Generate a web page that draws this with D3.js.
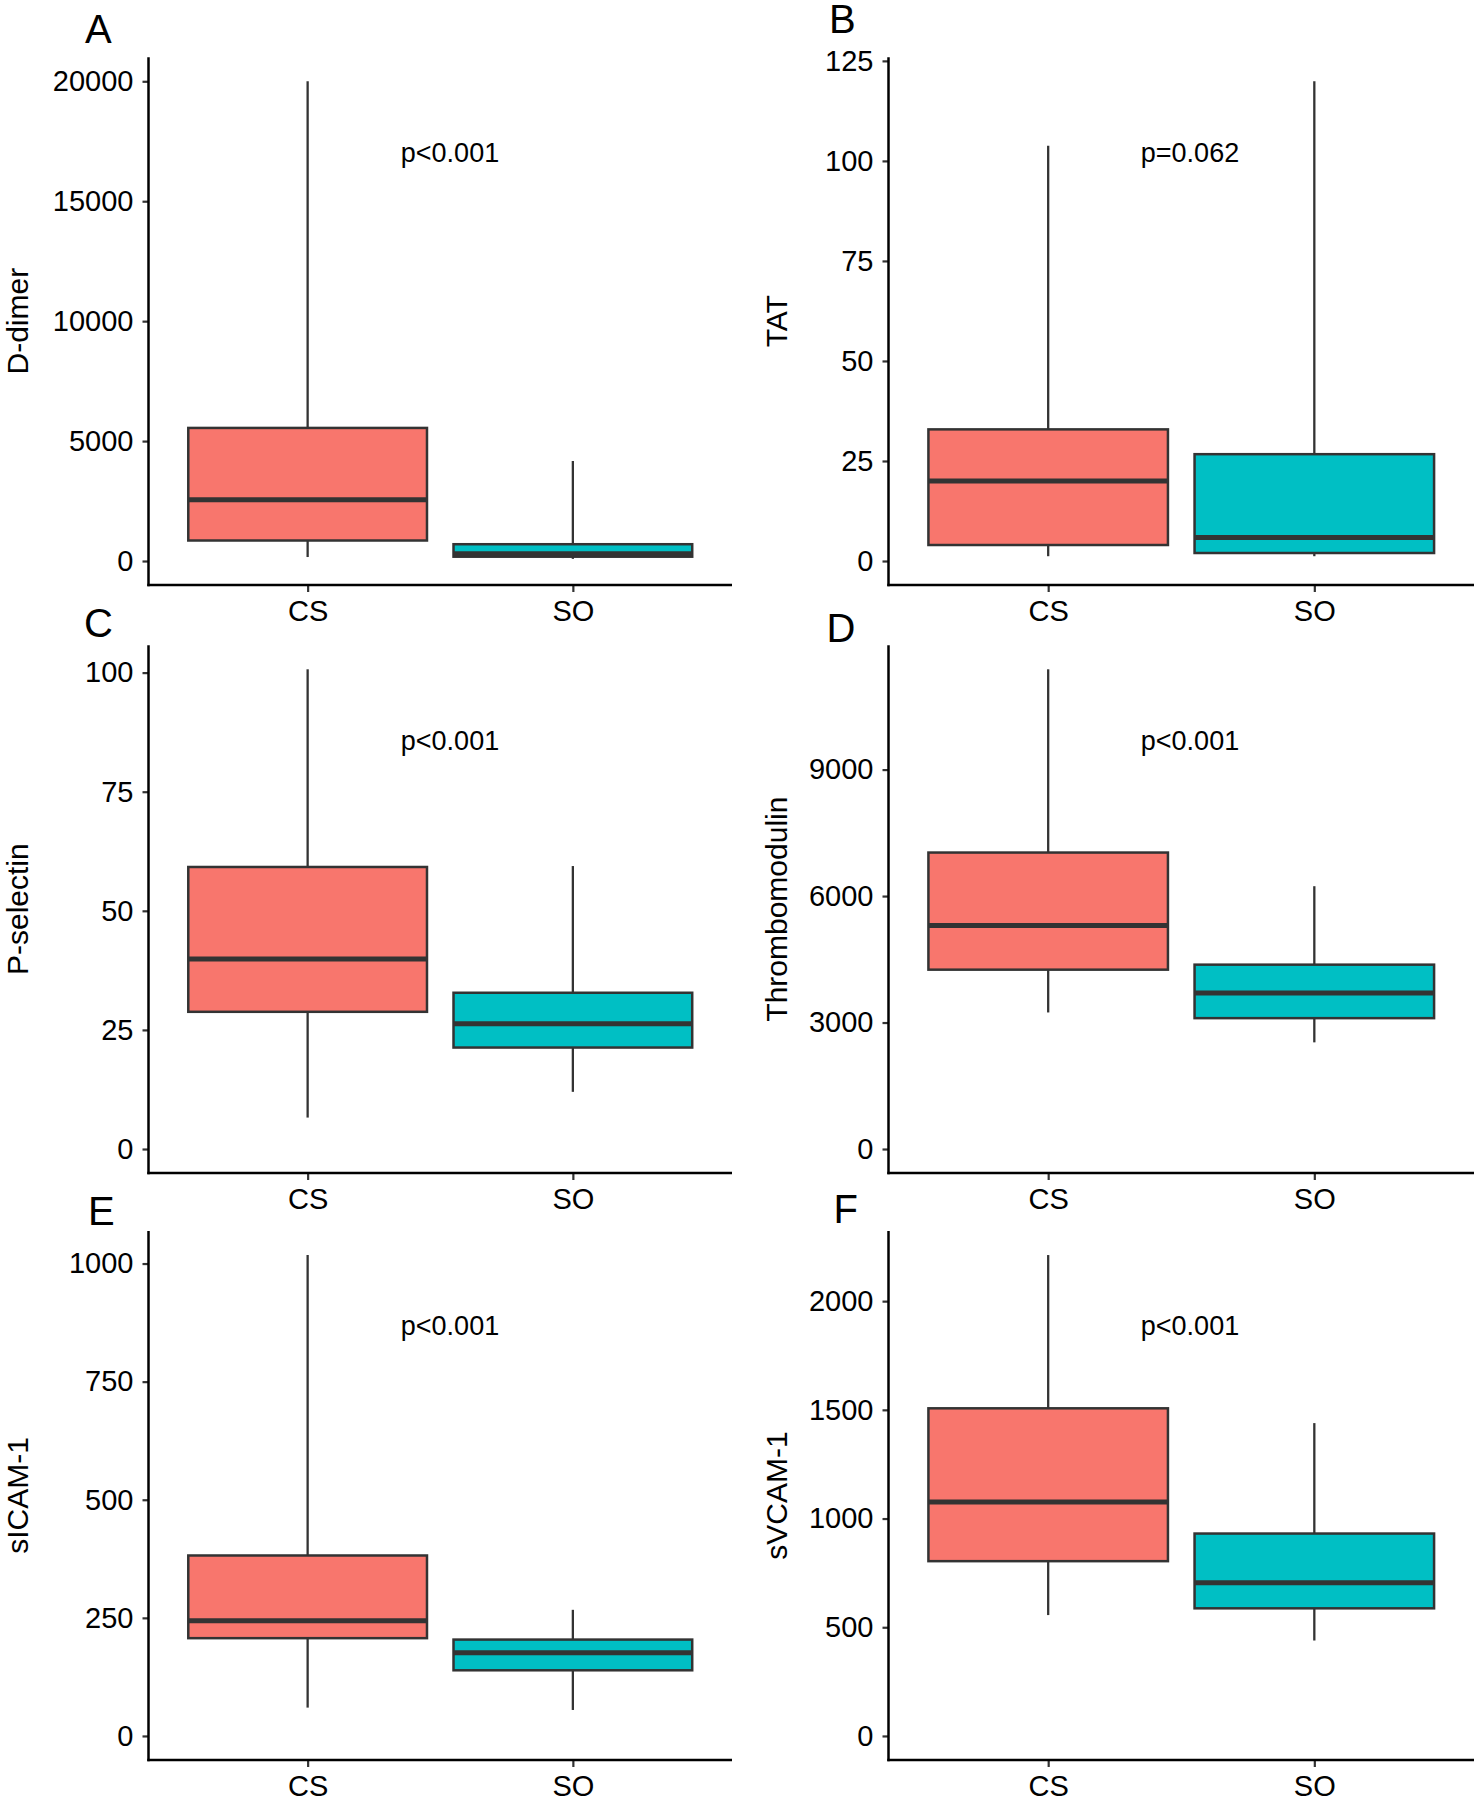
<!DOCTYPE html>
<html>
<head>
<meta charset="utf-8">
<script src="https://cdn.jsdelivr.net/npm/d3@7"></script>
<style>
  html, body { margin: 0; padding: 0; background: #ffffff; }
  svg { display: block; font-family: "Liberation Sans", Arial, Helvetica, sans-serif; }
</style>
</head>
<body>
<svg id="chart" width="1475" height="1800"></svg>
<script>
// ---------------- data ----------------
const groups = ["CS", "SO"];
const groupColors = ["#F8766D", "#00BFC4"];

const panelLetters = ["A", "B", "C", "D", "E", "F"];
const yTitles = ["D-dimer", "TAT", "P-selectin", "Thrombomodulin", "sICAM-1", "sVCAM-1"];
const pLabels = ["p<0.001", "p=0.062", "p<0.001", "p<0.001", "p<0.001", "p<0.001"];

// box stats per group: [lower whisker, Q1, median, Q3, upper whisker]
const ddimerCS = [166, 855, 2552, 5548, 20000];
const ddimerSO = [90, 180, 300, 700, 4170];
const tatCS = [1.2, 4.0, 20.0, 32.9, 103.8];
const tatSO = [1.2, 2.0, 5.9, 26.7, 119.9];
const pselCS = [6.6, 28.8, 39.9, 59.2, 100.7];
const pselSO = [12.0, 21.3, 26.3, 32.8, 59.4];
const tmCS = [3239, 4254, 5299, 7032, 11379];
const tmSO = [2530, 3104, 3702, 4373, 6234];
const icamCS = [60, 207, 244, 382, 1018];
const icamSO = [55, 139, 176, 204, 267];
const vcamCS = [556, 804, 1076, 1507, 2212];
const vcamSO = [439, 587, 705, 931, 1439];

const ddimerTicks = [0, 5000, 10000, 15000, 20000];
const tatTicks = [0, 25, 50, 75, 100, 125];
const pselTicks = [0, 25, 50, 75, 100];
const tmTicks = [0, 3000, 6000, 9000];
const icamTicks = [0, 250, 500, 750, 1000];
const vcamTicks = [0, 500, 1000, 1500, 2000];

const panelStats = [
  [ddimerCS, ddimerSO], [tatCS, tatSO], [pselCS, pselSO],
  [tmCS, tmSO], [icamCS, icamSO], [vcamCS, vcamSO]
];
const panelTicks = [ddimerTicks, tatTicks, pselTicks, tmTicks, icamTicks, vcamTicks];

// ---------------- layout ----------------
const colAxisX = [148.5, 888.5];
const colEndX = [732, 1474];
const colTitleX = [28, 787];
const rowTop = [57.3, 645.3, 1231];
const rowBottom = [585, 1173, 1760];
const letterPos = [[85, 42.7], [829, 32.7], [84, 636.5], [826.5, 641.5], [88, 1225], [833.5, 1223]];

const svg = d3.select("#chart");

panelStats.forEach((stats, i) => {
  const col = i % 2, row = Math.floor(i / 2);
  const x0 = colAxisX[col], x1 = colEndX[col];
  const yTop = rowTop[row], yBot = rowBottom[row];

  const maxV = d3.max(stats, s => s[4]);
  const pad = 0.05 * maxV;
  const y = d3.scaleLinear().domain([-pad, maxV + pad]).range([yBot, yTop]);
  const x = d3.scalePoint().domain(groups).range([x0, x1]).padding(0.6);
  const step = x.step();
  const boxW = 0.9 * step;

  const g = svg.append("g");

  // y axis
  const yAxis = d3.axisLeft(y).tickValues(panelTicks[i]).tickSize(6).tickPadding(9).tickFormat(d3.format("d"));
  const ya = g.append("g").attr("transform", `translate(${x0},0)`).call(yAxis);
  ya.select(".domain").remove();
  ya.selectAll(".tick line").attr("stroke", "#333333").attr("stroke-width", 2.2);
  ya.selectAll(".tick text").attr("fill", "#000").attr("font-size", 29)
    .attr("font-family", "Liberation Sans, Arial, sans-serif");

  // x axis
  const xAxis = d3.axisBottom(x).tickSize(7).tickPadding(8);
  const xa = g.append("g").attr("transform", `translate(0,${yBot})`).call(xAxis);
  xa.select(".domain").remove();
  xa.selectAll(".tick line").attr("stroke", "#333333").attr("stroke-width", 2.2);
  xa.selectAll(".tick text").attr("fill", "#000").attr("font-size", 29)
    .attr("font-family", "Liberation Sans, Arial, sans-serif");

  // axis lines
  g.append("line").attr("x1", x0).attr("x2", x0).attr("y1", yTop).attr("y2", yBot + 1.2)
    .attr("stroke", "#000").attr("stroke-width", 2.5);
  g.append("line").attr("x1", x0 - 1.2).attr("x2", x1).attr("y1", yBot).attr("y2", yBot)
    .attr("stroke", "#000").attr("stroke-width", 2.5);

  // boxes
  groups.forEach((grp, j) => {
    const s = stats[j];
    const cx = x(grp);
    // whiskers
    g.append("line").attr("x1", cx).attr("x2", cx).attr("y1", y(s[4])).attr("y2", y(s[3]))
      .attr("stroke", "#333333").attr("stroke-width", 2.3);
    g.append("line").attr("x1", cx).attr("x2", cx).attr("y1", y(s[1])).attr("y2", y(s[0]))
      .attr("stroke", "#333333").attr("stroke-width", 2.3);
    // box
    g.append("rect").attr("x", cx - boxW / 2).attr("width", boxW)
      .attr("y", y(s[3])).attr("height", y(s[1]) - y(s[3]))
      .attr("fill", groupColors[j]).attr("stroke", "#333333").attr("stroke-width", 2.5);
    // median
    g.append("line").attr("x1", cx - boxW / 2).attr("x2", cx + boxW / 2)
      .attr("y1", y(s[2])).attr("y2", y(s[2]))
      .attr("stroke", "#333333").attr("stroke-width", 5);
  });

  // p value
  g.append("text").attr("x", x0 + 301.5).attr("y", yTop + 104.4)
    .attr("text-anchor", "middle").attr("font-size", 27).attr("fill", "#000")
    .text(pLabels[i]);

  // y title
  g.append("text")
    .attr("transform", `translate(${colTitleX[col]},${(yTop + yBot) / 2}) rotate(-90)`)
    .attr("text-anchor", "middle").attr("font-size", 30).attr("fill", "#000")
    .text(yTitles[i]);

  // panel letter
  svg.append("text").attr("x", letterPos[i][0]).attr("y", letterPos[i][1])
    .attr("font-size", 40).attr("fill", "#000").text(panelLetters[i]);
});
</script>
</body>
</html>
